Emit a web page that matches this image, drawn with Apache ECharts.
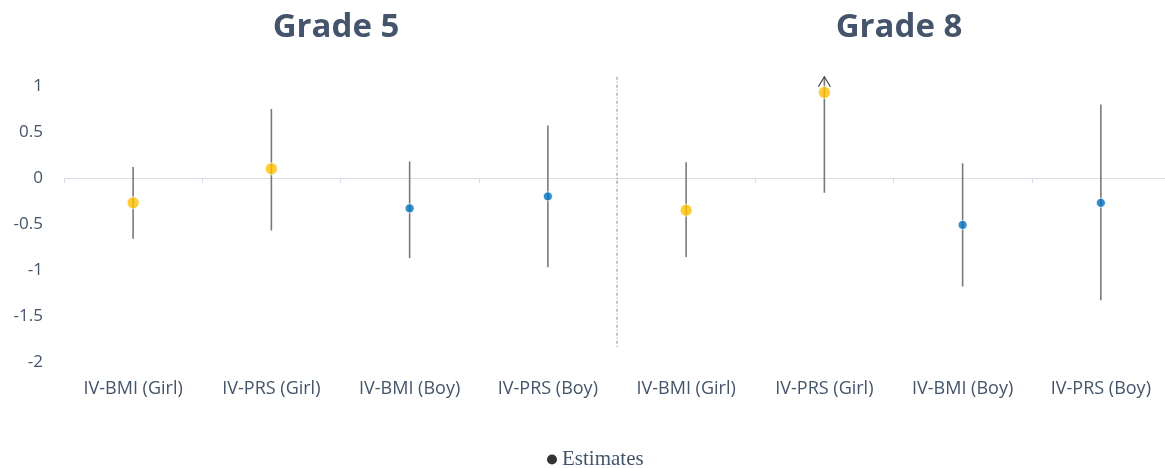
<!DOCTYPE html>
<html>
<head>
<meta charset="utf-8">
<script src="https://cdn.jsdelivr.net/npm/echarts@6/dist/echarts.min.js"></script>
<style>
  html, body { margin: 0; padding: 0; background: #fff; }
  #chart { width: 1165px; height: 468px; }
</style>
</head>
<body>
<div id="chart"></div>
<script>
// Instrumental-variable estimates with confidence intervals, by grade and sex
const categories = [
  'IV-BMI (Girl)', 'IV-PRS (Girl)', 'IV-BMI (Boy)', 'IV-PRS (Boy)',
  'IV-BMI (Girl)', 'IV-PRS (Girl)', 'IV-BMI (Boy)', 'IV-PRS (Boy)'
];
const sex = ['Girl', 'Girl', 'Boy', 'Boy', 'Girl', 'Girl', 'Boy', 'Boy'];
const estimates = [-0.27, 0.10, -0.33, -0.20, -0.35, 0.93, -0.51, -0.27];
const lowerCI   = [-0.66, -0.57, -0.87, -0.97, -0.86, -0.16, -1.18, -1.33];
const upperCI   = [0.12, 0.75, 0.18, 0.57, 0.17, 1.10, 0.16, 0.80];
const gradeTitles = ['Grade 5', 'Grade 8'];
const yTicks = { min: -2, max: 1, interval: 0.5 };
// vertical extent of the dashed separator between the two grades
const dividerRange = [1.1, -1.85];

const sexColor = { Girl: '#FFC000', Boy: '#0070C0' };
const sexSize = { Girl: 12, Boy: 9 };
const textColor = '#44546A';

const chart = echarts.init(document.getElementById('chart'), null, { renderer: 'canvas' });

const errorData = categories.map((c, i) => [i, lowerCI[i], upperCI[i]]);
const pointData = categories.map((c, i) => ({
  value: [i, estimates[i]],
  symbolSize: sexSize[sex[i]],
  itemStyle: { color: sexColor[sex[i]], borderColor: 'rgba(255,255,255,0.9)', borderWidth: 1 }
}));

function renderErrorBar(params, api) {
  const i = api.value(0);
  const lo = api.coord([i, api.value(1)]);
  const hi = api.coord([i, api.value(2)]);
  const children = [{
    type: 'line',
    shape: { x1: lo[0], y1: lo[1], x2: hi[0], y2: hi[1] },
    style: { stroke: '#7A7A7A', lineWidth: 1.6 }
  }];
  // interval running past the axis maximum gets an open arrowhead
  if (api.value(2) > yTicks.max) {
    children.push({
      type: 'polyline',
      shape: { points: [[hi[0] - 6, hi[1] + 10], [hi[0], hi[1]], [hi[0] + 6, hi[1] + 10]] },
      style: { stroke: '#404040', lineWidth: 1.2, fill: null }
    });
  }
  // dashed separator between the grade blocks
  if (i === categories.length / 2) {
    const prev = api.coord([i - 1, 0]);
    const x = (prev[0] + lo[0]) / 2;
    const top = api.coord([i, dividerRange[0]]);
    const bot = api.coord([i, dividerRange[1]]);
    children.push({
      type: 'line',
      shape: { x1: x, y1: top[1], x2: x, y2: bot[1] },
      style: { stroke: '#8C8C8C', lineWidth: 1, lineDash: [3, 2, 1, 2] }
    });
  }
  return { type: 'group', children };
}

const titleStyle = { fontFamily: 'Open Sans', fontWeight: 'bold', fontSize: 33, color: textColor };

const option = {
  animation: false,
  backgroundColor: '#fff',
  title: [
    { text: gradeTitles[0], left: 336, top: 11, textAlign: 'center', padding: 0, textStyle: titleStyle },
    { text: gradeTitles[1], left: 899, top: 11, textAlign: 'center', padding: 0, textStyle: titleStyle }
  ],
  legend: {
    top: 449,
    left: 547,
    padding: 0,
    icon: 'circle',
    itemWidth: 10,
    itemHeight: 10,
    itemGap: 6,
    data: ['Estimates'],
    itemStyle: { color: '#000', borderWidth: 0 },
    textStyle: { fontFamily: 'Liberation Serif', fontSize: 21, color: textColor }
  },
  grid: { left: 64, top: 86, width: 1106, height: 276, containLabel: false, outerBoundsMode: 'none' },
  xAxis: [
    {
      type: 'category',
      data: categories,
      position: 'bottom',
      axisLine: { show: false, onZero: false },
      axisTick: { show: false },
      splitLine: { show: false },
      axisLabel: { interval: 0, margin: 18, fontFamily: 'Open Sans', fontSize: 18, color: textColor }
    },
    {
      type: 'category',
      data: categories,
      position: 'bottom',
      axisLine: { show: true, onZero: true, lineStyle: { color: '#D9DDE6', width: 1 } },
      axisTick: { show: true, length: 5, lineStyle: { color: '#D9DDE6' } },
      axisLabel: { show: false },
      splitLine: { show: false }
    }
  ],
  yAxis: {
    type: 'value',
    min: yTicks.min,
    max: yTicks.max,
    interval: yTicks.interval,
    axisLine: { show: false },
    axisTick: { show: false },
    splitLine: { show: false },
    axisLabel: { margin: 21, fontFamily: 'Open Sans', fontSize: 17, color: textColor }
  },
  series: [
    {
      type: 'custom',
      name: 'CI',
      xAxisIndex: 0,
      clip: false,
      renderItem: renderErrorBar,
      encode: { x: 0, y: [1, 2] },
      data: errorData,
      z: 2
    },
    {
      type: 'scatter',
      name: 'Estimates',
      xAxisIndex: 0,
      symbol: 'circle',
      itemStyle: { color: '#000' },
      data: pointData,
      z: 3
    }
  ]
};

chart.setOption(option);
</script>
</body>
</html>
